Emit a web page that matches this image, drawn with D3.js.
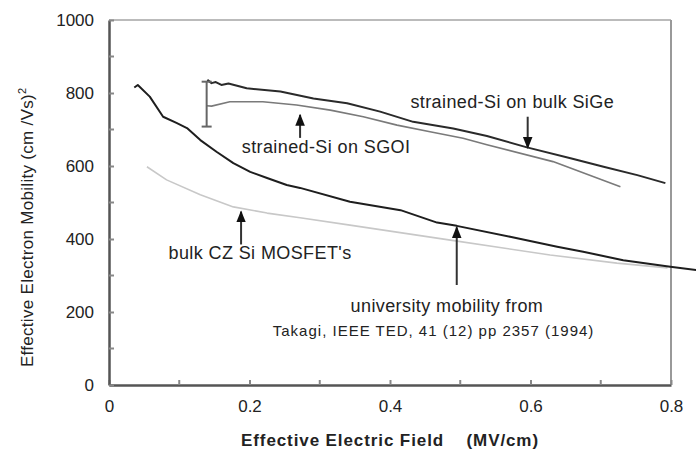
<!DOCTYPE html>
<html>
<head>
<meta charset="utf-8">
<script src="https://cdn.jsdelivr.net/npm/d3@7"></script>
<style>
  body { margin: 0; background: #fff; }
  text { font-family: "Liberation Sans", Arial, sans-serif; fill: #222; }
</style>
</head>
<body>
<script>
// university mobility (Takagi 1994)
var univField = [0.036, 0.041, 0.058, 0.077, 0.096, 0.111, 0.130, 0.153, 0.177, 0.201, 0.225, 0.253, 0.272, 0.343, 0.415, 0.467, 0.495, 0.571, 0.638, 0.675, 0.732, 0.799, 0.837]
var univMob = [815, 822, 790, 735, 718, 704, 671, 639, 608, 584, 567, 548, 540, 502, 479, 445, 436, 406, 379, 365, 342, 324, 315]

// bulk CZ Si MOSFET's
var bulkField = [0.054, 0.082, 0.130, 0.177, 0.225, 0.272, 0.343, 0.486, 0.628, 0.723, 0.795]
var bulkMob = [598, 562, 521, 488, 471, 458, 438, 397, 356, 334, 321]

// strained-Si on bulk SiGe
var sigeField = [0.140, 0.146, 0.152, 0.160, 0.170, 0.196, 0.244, 0.291, 0.339, 0.386, 0.433, 0.490, 0.538, 0.595, 0.657, 0.704, 0.752, 0.792]
var sigeMob = [836, 827, 830, 822, 826, 813, 804, 785, 772, 749, 721, 703, 682, 651, 621, 598, 575, 553]

// strained-Si on SGOI
var sgoiField = [0.139, 0.146, 0.172, 0.219, 0.267, 0.315, 0.362, 0.410, 0.457, 0.504, 0.538, 0.632, 0.728]
var sgoiMob = [765, 764, 776, 776, 767, 753, 735, 712, 694, 676, 658, 612, 543]

// error bar on the strained-Si data
var errField = 0.139
var errLow = 708
var errHigh = 831

var xTicks = [0, 0.2, 0.4, 0.6, 0.8]
var xMinor = [0.1, 0.3, 0.5, 0.7]
var yTicks = [0, 200, 400, 600, 800, 1000]
var yMinor = [100, 300, 500, 700, 900]

// annotations: arrow x, arrow tip / tail, label centre (data units)
var notes = [
    { label: "strained-Si on bulk SiGe", x: 0.596, tip: 650, tail: 735, tx: 0.574, ty: 773 },
    { label: "strained-Si on SGOI", x: 0.272, tip: 740, tail: 677, tx: 0.309, ty: 650 },
    { label: "bulk CZ Si MOSFET's", x: 0.188, tip: 475, tail: 385, tx: 0.215, ty: 357 },
    { label: "university mobility from", x: 0.495, tip: 432, tail: 274, tx: 0.481, ty: 212 }
]
var citation = "Takagi, IEEE TED, 41 (12) pp 2357 (1994)"

var width = 696
var height = 458
var margin = { top: 20, right: 25, bottom: 73, left: 109 }

var xScale = d3.scaleLinear().domain([0, 0.8]).range([margin.left, width - margin.right])
var yScale = d3.scaleLinear().domain([0, 1000]).range([height - margin.bottom, margin.top])

var svg = d3.select("body").append("svg")
    .attr("width", width)
    .attr("height", height)

svg.append("defs").append("marker")
    .attr("id", "head")
    .attr("viewBox", "0 0 10 10")
    .attr("refX", 9).attr("refY", 5)
    .attr("markerWidth", 6).attr("markerHeight", 7)
    .attr("orient", "auto")
    .append("path").attr("d", "M0,1 L10,5 L0,9 Z").attr("fill", "#111")

// frame: top and right lighter
svg.append("line")
    .attr("x1", xScale(0)).attr("x2", xScale(0.8))
    .attr("y1", yScale(1000)).attr("y2", yScale(1000))
    .attr("stroke", "#bbb").attr("stroke-width", 2)
svg.append("line")
    .attr("x1", xScale(0.8)).attr("x2", xScale(0.8))
    .attr("y1", yScale(1000)).attr("y2", yScale(0))
    .attr("stroke", "#999").attr("stroke-width", 2)

// axes with inward ticks
var xAxis = d3.axisBottom(xScale).tickValues(xTicks).tickSizeInner(-5).tickSizeOuter(0)
    .tickPadding(15).tickFormat(function (d) { return d === 0 ? "0" : d3.format(".1f")(d) })
var gx = svg.append("g").attr("transform", "translate(0," + yScale(0) + ")").call(xAxis)
gx.selectAll("line").attr("stroke", "#888").attr("stroke-width", 2)
gx.select(".domain").attr("stroke", "#555").attr("stroke-width", 2.5)
gx.selectAll("text").attr("font-size", 17).attr("fill", "#333")
gx.selectAll(".minor").data(xMinor).enter().append("line")
    .attr("x1", function (d) { return xScale(d) }).attr("x2", function (d) { return xScale(d) })
    .attr("y1", 0).attr("y2", -5).attr("stroke", "#888").attr("stroke-width", 2)

var yAxis = d3.axisLeft(yScale).tickValues(yTicks).tickSizeInner(-5).tickSizeOuter(0)
    .tickPadding(15).tickFormat(d3.format("d"))
var gy = svg.append("g").attr("transform", "translate(" + xScale(0) + ",0)").call(yAxis)
gy.selectAll("line").attr("stroke", "#888").attr("stroke-width", 2)
gy.select(".domain").attr("stroke", "#555").attr("stroke-width", 2.5)
gy.selectAll("text").attr("font-size", 17).attr("fill", "#333")
gy.selectAll(".minor").data(yMinor).enter().append("line")
    .attr("y1", function (d) { return yScale(d) }).attr("y2", function (d) { return yScale(d) })
    .attr("x1", 0).attr("x2", 5).attr("stroke", "#888").attr("stroke-width", 2)

// curves
var line = d3.line()
    .x(function (d) { return xScale(d[0]) })
    .y(function (d) { return yScale(d[1]) })

function series(xs, ys, color, w) {
    svg.append("path")
        .datum(d3.zip(xs, ys))
        .attr("fill", "none")
        .attr("stroke", color)
        .attr("stroke-width", w)
        .attr("stroke-linejoin", "round")
        .attr("d", line)
}
series(bulkField, bulkMob, "#c8c8c8", 1.6)
series(univField, univMob, "#1e1e1e", 2)
series(sgoiField, sgoiMob, "#7a7a7a", 1.6)
series(sigeField, sigeMob, "#2a2a2a", 2)

// error bar
svg.append("line")
    .attr("x1", xScale(errField)).attr("x2", xScale(errField))
    .attr("y1", yScale(errLow)).attr("y2", yScale(errHigh))
    .attr("stroke", "#666").attr("stroke-width", 2)
;[errLow, errHigh].forEach(function (v) {
    svg.append("line")
        .attr("x1", xScale(errField) - 5).attr("x2", xScale(errField) + 5)
        .attr("y1", yScale(v)).attr("y2", yScale(v))
        .attr("stroke", "#666").attr("stroke-width", 2)
})

// annotations
notes.forEach(function (n) {
    svg.append("line")
        .attr("x1", xScale(n.x)).attr("x2", xScale(n.x))
        .attr("y1", yScale(n.tail)).attr("y2", yScale(n.tip))
        .attr("stroke", "#333").attr("stroke-width", 2)
        .attr("marker-end", "url(#head)")
    svg.append("text")
        .attr("x", xScale(n.tx)).attr("y", yScale(n.ty))
        .attr("text-anchor", "middle")
        .attr("dominant-baseline", "middle")
        .attr("font-size", 18)
        .attr("letter-spacing", 0.4)
        .text(n.label)
})
svg.append("text")
    .attr("x", xScale(0.462)).attr("y", yScale(144))
    .attr("text-anchor", "middle")
    .attr("dominant-baseline", "middle")
    .attr("font-size", 15)
    .attr("letter-spacing", 1)
    .text(citation)

// axis titles
svg.append("text")
    .attr("x", xScale(0.4)).attr("y", 446)
    .attr("text-anchor", "middle")
    .attr("font-size", 17)
    .attr("font-weight", "bold")
    .attr("letter-spacing", 0.9)
    .attr("xml:space", "preserve")
    .text("Effective Electric Field    (MV/cm)")

var yt = svg.append("text")
    .attr("transform", "translate(33," + yScale(432) + ") rotate(-90)")
    .attr("text-anchor", "middle")
    .attr("font-size", 17)
    .attr("letter-spacing", 0.3)
yt.append("tspan").text("Effective Electron Mobility (cm /Vs)")
yt.append("tspan").attr("dy", -7).attr("font-size", 11).text("2")
</script>
</body>
</html>
